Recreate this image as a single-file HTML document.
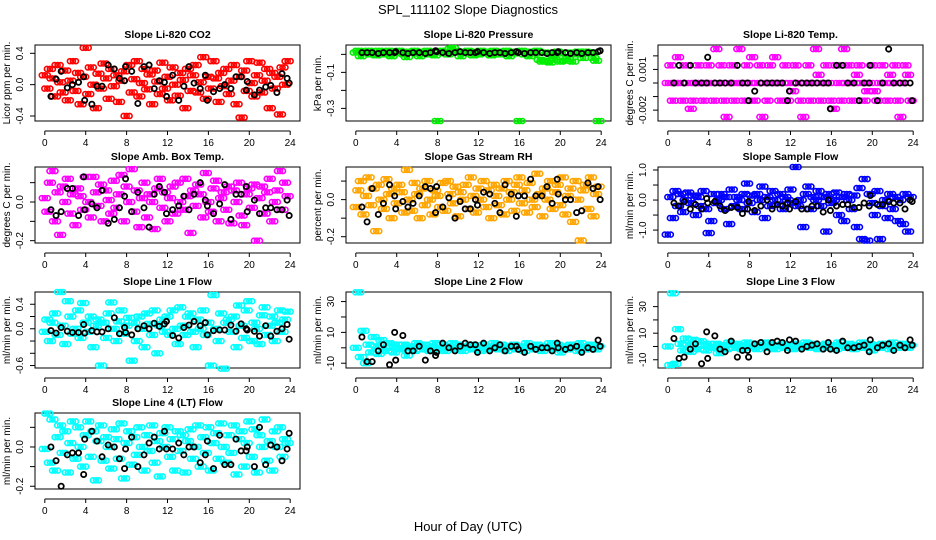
<!DOCTYPE html>
<html><head><meta charset="utf-8"><style>
html,body{margin:0;padding:0;background:#fff;}
svg{display:block;font-family:"Liberation Sans",Arial,sans-serif;}
</style></head><body>
<svg id="chart" width="936" height="540" viewBox="0 0 936 540">
<rect width="936" height="540" fill="#fff"/>
<text x="468" y="14" font-size="13" text-anchor="middle">SPL_111102  Slope Diagnostics</text>
<text x="468" y="531" font-size="13" text-anchor="middle">Hour of Day (UTC)</text>
</svg>
<script>
const hourTicks = [0,4,8,12,16,20,24];
const blackHours = [0.6,1.1,1.6,2.2,2.7,3.3,3.8,3.9,4.6,5.1,5.6,6.2,6.8,7.3,7.8,7.9,8.5,9.1,9.7,10.2,10.7,11.2,11.7,11.9,12.5,13.1,13.6,14.1,14.6,15.2,15.7,15.9,16.5,17.1,17.6,18.2,18.7,19.2,19.7,19.8,20.5,21.0,21.6,22.1,22.7,23.2,23.7,23.9];

const co2Vals = [0.12,-0.05,0.2,0.08,-0.15,0.25,0.03,-0.1,0.18,-0.2,0.05,0.3,-0.08,0.15,-0.25,0.1,0.47,-0.12,0.22,0.0,-0.3,0.14,-0.05,0.27,0.08,-0.18,0.2,-0.02,0.12,-0.22,0.05,0.17,-0.4,0.25,-0.1,0.07,0.3,-0.15,0.02,0.2,-0.06,0.13,-0.25,0.18,0.04,-0.12,0.28,-0.05,0.1,-0.2,0.22,0.0,-0.14,0.15,0.06,-0.3,0.2,-0.08,0.12,0.25,-0.1,0.03,0.35,-0.18,0.1,-0.05,0.3,0.08,-0.22,0.15,-0.02,0.2,-0.12,0.05,0.25,-0.25,0.1,-0.42,0.18,-0.08,0.3,0.02,-0.15,0.12,0.28,-0.1,0.05,0.2,-0.3,0.15,-0.05,0.1,-0.38,0.22,0.0,0.3];
const co2Black = [-0.15,0.07,0.17,-0.04,0.0,0.03,0.1,-0.2,-0.25,-0.02,-0.02,0.25,0.2,0.08,0.05,0.23,0.17,-0.24,0.23,0.25,-0.05,0.05,0.03,-0.15,0.12,-0.2,-0.02,0.23,0.02,-0.05,0.12,-0.2,-0.09,-0.05,0.0,-0.05,0.1,0.1,-0.07,0.04,-0.13,-0.07,-0.03,-0.01,-0.1,0.14,0.08,0.02];

const presVals = [0.01,0.02,-0.01,0.015,0.005,0.02,0.0,0.01,-0.005,0.02,0.01,0.015,0.0,0.02,-0.01,0.01,0.005,0.02,0.01,0.0,-0.015,0.015,0.01,0.02,0.005,-0.01,0.015,0.01,0.02,0.0,0.01,-0.005,-0.37,0.02,0.01,0.015,0.0,0.03,0.035,0.02,0.01,-0.01,0.015,0.005,0.02,0.01,-0.005,0.015,0.0,0.02,0.01,0.005,0.015,-0.005,0.02,0.01,0.0,0.015,0.01,0.02,-0.01,0.01,0.005,0.015,-0.37,0.02,0.0,0.01,-0.01,0.015,0.005,0.02,-0.03,-0.04,0.01,-0.035,-0.045,0.0,-0.03,0.015,-0.04,0.005,-0.035,-0.025,0.01,-0.04,0.0,0.015,0.01,-0.02,0.015,0.005,0.01,-0.02,-0.035,-0.37];
const presBlack = [0.01,0.01,0.01,0.005,0.01,0.01,0.01,0.015,0.01,0.005,0.01,0.01,0.005,0.01,0.02,0.015,0.01,0.005,0.01,0.015,0.01,0.01,0.01,0.015,0.01,0.005,0.01,0.01,0.005,0.01,0.015,0.01,0.005,0.01,0.01,0.01,0.005,0.01,0.01,0.015,0.01,0.005,0.01,0.005,0.01,0.01,0.015,0.02];

const tempVals = [0,0.0013,-0.0013,0,0.0019,0,-0.0013,0.0013,0,-0.0019,-0.0013,0,0.0013,0,-0.0013,0,0.0013,0,-0.0013,0.0025,0,0.0013,-0.0013,-0.0025,0,0.0013,-0.0013,0,0.0025,0,-0.0013,0.0013,0,0.0019,-0.0013,0,0.0013,-0.0025,0,-0.0013,0.0013,0,0.0019,0,-0.0013,0,0.0013,-0.0013,0,-0.0006,0.0013,0,-0.0013,-0.0025,0,0.0013,-0.0013,0,0.0025,0.0006,-0.0013,0,0.0013,0,-0.0013,-0.0019,0.0013,0,-0.0013,0.0025,0,0.0013,-0.0013,0,0.0006,0.0013,0,-0.0013,-0.0006,0,0.0013,-0.0006,-0.0013,0,0.0013,0,-0.0013,0.0006,0,0.0013,-0.0013,-0.0025,0,0.0013,0.0006,-0.0013];
const tempBlack = [0,0.0013,0,0.0013,0,0,0,0.0019,0,0,0,0,0.0013,0,0,-0.0013,-0.0006,0,0,0,0,0,-0.0013,-0.0006,0,0,0,0,0,0,0,-0.0019,0.0013,0.0013,0,0,-0.0013,0,0,0.0013,-0.0013,0,0.0025,0,0,0,0,-0.0013];

const boxVals = [0.02,-0.05,0.1,0.16,-0.1,0.05,-0.17,0.08,0.0,0.12,-0.06,0.04,-0.12,0.07,0.03,-0.04,0.13,0.0,-0.08,0.13,0.05,-0.02,0.09,-0.1,0.06,0.01,-0.06,0.11,-0.03,0.04,0.14,-0.1,0.08,0.0,0.17,-0.05,0.06,-0.13,0.02,0.1,-0.08,0.04,0.0,-0.14,0.07,0.12,-0.03,0.05,-0.1,0.02,0.08,-0.06,0.1,0.0,-0.04,0.12,0.03,-0.16,0.06,-0.02,0.09,0.04,-0.08,0.15,0.0,-0.05,0.07,0.11,-0.1,0.02,0.05,-0.04,0.08,-0.11,0.06,0.0,0.1,-0.07,-0.12,0.04,0.07,-0.03,0.09,-0.2,0.02,0.08,-0.06,0.05,0.12,-0.1,0.0,0.06,0.16,-0.04,0.1,0.03];
const boxBlack = [-0.04,-0.07,-0.05,0.07,0.07,-0.07,0.13,-0.04,-0.01,-0.03,0.06,-0.11,-0.09,-0.03,0.03,0.12,-0.05,0.05,-0.03,-0.13,0.04,0.08,0.05,-0.06,-0.04,-0.02,0.03,-0.04,0.04,0.1,0.01,-0.02,-0.06,-0.01,0.09,-0.09,0.04,0.04,0.08,-0.05,0.01,-0.06,-0.03,-0.03,-0.04,-0.04,0.01,-0.07];

const rhVals = [-0.04,0.05,0.1,-0.08,0.02,0.12,-0.03,0.06,-0.17,0.08,0.0,-0.05,0.11,0.03,-0.1,0.06,-0.02,0.08,0.04,-0.07,0.16,0.0,-0.06,0.09,0.03,-0.1,0.06,-0.03,0.1,0.0,-0.08,0.05,0.02,-0.04,0.09,-0.06,0.1,0.03,-0.02,0.07,-0.09,0.04,0.0,0.08,-0.05,0.12,0.02,-0.07,0.06,0.0,0.1,-0.04,0.05,-0.1,0.08,0.02,-0.03,0.06,-0.08,0.1,0.0,0.04,-0.06,0.08,0.12,-0.02,0.05,-0.07,0.09,0.0,-0.04,0.14,0.03,-0.09,0.06,0.0,0.1,-0.05,0.04,0.08,-0.03,0.12,-0.08,0.02,0.06,-0.12,0.1,0.0,-0.22,0.05,0.08,-0.05,0.12,-0.09,0.03,0.07];
const rhBlack = [-0.04,-0.12,0.06,-0.08,-0.02,0.08,0.02,-0.05,-0.01,-0.04,-0.02,0.02,0.07,0.06,-0.07,0.07,-0.04,0.01,-0.1,-0.01,-0.05,-0.05,0.0,-0.03,0.04,0.03,-0.02,-0.07,0.08,0.03,-0.09,0.02,0.02,0.11,0.02,0.02,0.07,-0.02,0.11,0.03,0.0,0.0,-0.07,-0.06,0.09,0.06,0.07,0.0];

const flowVals = [-1.15,0.1,-0.6,0.3,-0.2,0.2,-0.4,0.0,0.25,-0.1,0.15,-0.5,0.1,-0.2,0.3,-0.3,-1.1,-0.7,0.2,-0.1,0.0,0.2,-0.3,0.1,-0.8,0.35,-0.2,0.1,0.0,-0.3,0.2,0.55,-0.1,0.15,-0.4,0.2,0.0,0.45,-0.6,0.1,-0.2,0.3,0.0,-0.15,0.2,-0.3,0.1,0.0,0.35,-0.1,1.1,-0.2,0.0,-0.9,0.2,0.45,-0.3,0.1,0.0,0.3,-0.2,0.1,-1.05,0.2,-0.1,0.0,0.25,-0.5,0.1,-0.7,0.2,0.0,-0.3,0.15,-0.9,0.4,-1.3,0.7,-1.35,0.2,-0.1,-0.5,0.3,-1.3,-0.2,0.0,-0.6,0.2,-0.3,0.1,-0.7,0.0,-0.8,0.2,-1.05,0.1];
const flowBlack = [-0.1,-0.2,-0.05,-0.3,-0.15,-0.3,0.05,-0.1,-0.05,-0.2,-0.35,-0.25,-0.25,-0.45,-0.3,-0.05,-0.35,-0.2,0.0,-0.3,-0.15,-0.2,-0.1,-0.3,-0.05,-0.3,-0.3,-0.2,-0.2,-0.4,0.0,-0.35,-0.2,-0.15,-0.15,-0.25,-0.25,-0.1,-0.2,0.15,-0.15,-0.15,-0.05,-0.1,-0.1,-0.3,0.0,-0.05];

const l1Vals = [-0.05,0.15,-0.2,0.1,0.25,-0.1,0.6,0.05,-0.25,0.45,0.2,-0.08,0.0,0.3,-0.15,0.42,0.1,-0.05,0.2,-0.3,0.05,0.15,-0.6,0.1,-0.15,0.25,0.43,0.0,-0.2,0.12,0.3,-0.08,0.05,0.18,-0.52,0.1,-0.2,0.2,0.0,-0.3,0.25,0.08,-0.1,0.3,-0.4,0.05,0.15,-0.05,0.2,-0.1,0.3,0.0,-0.25,0.35,0.05,-0.1,0.2,0.25,-0.05,-0.3,0.15,0.0,0.3,-0.1,0.1,-0.6,0.55,0.0,-0.2,0.25,-0.65,0.1,0.15,-0.05,0.2,-0.3,0.38,0.05,-0.15,0.3,0.45,-0.2,0.1,0.0,-0.25,0.22,0.35,-0.1,0.05,0.2,-0.2,0.1,0.3,-0.05,0.15,0.28];
const l1Black = [-0.03,-0.07,0.02,-0.04,-0.06,-0.06,0.07,-0.07,-0.03,-0.05,-0.05,0.0,0.18,-0.08,0.02,-0.06,-0.1,0.0,0.05,0.0,0.09,0.04,0.08,0.12,-0.11,-0.15,0.02,0.06,0.12,0.05,0.1,-0.1,-0.03,-0.02,-0.02,0.06,-0.04,0.08,0.0,-0.02,-0.04,-0.12,0.05,-0.12,-0.04,0.0,0.07,-0.17];

const l2Vals = [0,36,-6,11,-10,2,-3,7,1,-4,5,0,-2,3,1,-3,2,0,-1,2,-5,1,0,-2,3,1,-1,2,0,-2,1,3,-1,0,2,-2,1,0,3,-1,2,0,-2,1,0,2,-1,0,1,-2,2,0,-1,1,3,0,-1,2,0,-2,1,0,2,-1,0,1,-2,3,0,1,-1,2,0,-2,1,0,3,-1,0,2,-3,1,0,-1,2,0,1,-2,3,0,-1,1,2,0,-1,1];
const l2Black = [7,-9,-9,-2,2,-11,10,-8,8,-2,-2,1,-8,-2,-5,-3,3,0,-2,1,3,2,2,-3,3,-2,0,2,-2,1,1,-1,-3,1,-1,0,0,-2,3,0,-1,0,1,-3,0,-1,5,1];

const l3Vals = [0,-14,40,-13,13,2,-3,6,1,-4,5,0,-2,4,1,-3,2,0,-1,2,-5,1,0,-2,3,1,-1,2,0,-2,1,3,-1,0,2,-2,1,0,3,-1,2,0,-2,1,0,2,-1,0,1,-2,2,0,-1,1,3,0,-1,2,0,-2,1,0,2,-1,0,1,-2,3,0,1,-1,2,0,-2,1,0,3,-1,0,2,-3,1,0,-1,2,0,1,-2,3,0,-1,1,2,0,-1,1];
const l3Black = [6,-9,-8,-2,2,-13,11,-9,8,-2,-4,4,-8,-3,-3,-8,2,3,-4,3,4,3,-3,5,4,-2,0,1,2,-2,3,-2,-3,4,-1,-1,0,1,-4,5,-1,1,2,-3,1,-1,5,1];

const l4Vals = [-0.01,0.17,-0.08,0.14,-0.12,0.05,0.11,-0.03,0.08,-0.13,0.02,0.13,-0.06,0.1,0.0,-0.1,0.06,0.13,-0.05,0.08,-0.17,0.03,0.11,-0.07,0.05,0.0,-0.11,0.09,0.04,-0.06,0.12,-0.16,0.02,0.08,-0.09,0.05,-0.04,0.1,0.0,-0.12,0.06,-0.02,0.11,-0.08,0.03,-0.15,0.07,0.0,0.1,-0.05,0.04,-0.12,0.08,-0.02,0.06,-0.13,0.03,0.09,-0.06,0.0,0.11,-0.1,0.05,-0.03,0.1,-0.12,0.02,0.07,-0.06,0.12,0.0,-0.08,0.06,-0.03,0.11,-0.14,0.04,0.08,-0.1,0.02,0.13,-0.05,0.09,-0.13,0.06,0.0,0.14,-0.07,0.03,-0.12,0.08,0.0,0.1,-0.05,0.04,0.02];
const l4Black = [0.0,-0.07,-0.2,-0.04,-0.03,-0.03,-0.14,0.04,0.08,0.03,-0.05,0.01,0.0,-0.06,-0.11,-0.01,0.05,-0.1,-0.04,0.02,0.05,-0.01,0.08,-0.01,-0.01,0.02,-0.04,0.0,0.0,-0.08,-0.04,0.03,-0.11,0.06,-0.09,-0.09,0.04,-0.02,-0.02,0.0,-0.1,0.1,-0.09,0.01,0.0,-0.07,-0.01,0.07];

const panels = [
 {name:'co2',title:'Slope Li-820 CO2',ylab:'Licor ppm per min.',col:0,row:0,color:'#ff0000',vals:co2Vals,black:co2Black,ymin:-0.464,ymax:0.506,ticks:[-0.4,0,0.4],labels:['-0.4','0.0','0.4']},
 {name:'pressure',title:'Slope Li-820 Pressure',ylab:'kPa per min.',col:1,row:0,color:'#00ee00',vals:presVals,black:presBlack,ymin:-0.37,ymax:0.052,ticks:[0,-0.1,-0.2,-0.3],labels:['','-0.1','','-0.3']},
 {name:'temp',title:'Slope Li-820 Temp.',ylab:'degrees C per min.',col:2,row:0,color:'#ff00ff',vals:tempVals,black:tempBlack,ymin:-0.0028,ymax:0.0028,ticks:[0.002,0.001,0,-0.001,-0.002],labels:['','0.001','','','-0.002']},
 {name:'box-temp',title:'Slope Amb. Box Temp.',ylab:'degrees C per min.',col:0,row:1,color:'#ff00ff',vals:boxVals,black:boxBlack,ymin:-0.212,ymax:0.181,ticks:[0.1,0,-0.1,-0.2],labels:['','0.0','','-0.2']},
 {name:'gas-rh',title:'Slope Gas Stream RH',ylab:'percent per min.',col:1,row:1,color:'#ffa500',vals:rhVals,black:rhBlack,ymin:-0.234,ymax:0.176,ticks:[0.1,0,-0.1,-0.2],labels:['','0.0','','-0.2']},
 {name:'sample-flow',title:'Slope Sample Flow',ylab:'ml/min per min.',col:2,row:1,color:'#0000ff',vals:flowVals,black:flowBlack,ymin:-1.43,ymax:1.1,ticks:[1,0.5,0,-0.5,-1],labels:['1.0','','0.0','','-1.0']},
 {name:'line1-flow',title:'Slope Line 1 Flow',ylab:'ml/min per min.',col:0,row:2,color:'#00ffff',vals:l1Vals,black:l1Black,ymin:-0.64,ymax:0.6,ticks:[0.4,0.2,0,-0.2,-0.4,-0.6],labels:['0.4','','0.0','','','-0.6']},
 {name:'line2-flow',title:'Slope Line 2 Flow',ylab:'ml/min per min.',col:1,row:2,color:'#00ffff',vals:l2Vals,black:l2Black,ymin:-13.1,ymax:36.2,ticks:[30,20,10,0,-10],labels:['30','','10','','-10']},
 {name:'line3-flow',title:'Slope Line 3 Flow',ylab:'ml/min per min.',col:2,row:2,color:'#00ffff',vals:l3Vals,black:l3Black,ymin:-16.2,ymax:41,ticks:[30,20,10,0,-10],labels:['30','','10','','-10']},
 {name:'line4-flow',title:'Slope Line 4 (LT) Flow',ylab:'ml/min per min.',col:0,row:3,color:'#00ffff',vals:l4Vals,black:l4Black,ymin:-0.214,ymax:0.173,ticks:[0.1,0,-0.1,-0.2],labels:['','0.0','','-0.2']}
];

const NS='http://www.w3.org/2000/svg';
const svg=document.getElementById('chart');
const colX=[35,346,658], rowY=[45,167,292,413], W=265, H=76;
const clusterOffsets=[-3,0,3];
function mk(tag,attrs,parent){const e=document.createElementNS(NS,tag);for(const k in attrs)e.setAttribute(k,attrs[k]);(parent||svg).appendChild(e);return e;}

panels.forEach(p=>{
  const L=colX[p.col], T=rowY[p.row], B=T+H, R=L+W;
  const g=mk('g',{});
  
  
  const xs=h=>L+(h+0.96)*W/25.92;
  const ys=v=>T+(p.ymax-v)/(p.ymax-p.ymin)*H;
  const t=mk('text',{x:(L+R)/2,y:T-7,'font-size':10.5,'font-weight':'bold','text-anchor':'middle'},g);
  t.textContent=p.title;
  
  
  const box=mk('rect',{x:L,y:T,width:W,height:H,fill:'none',stroke:'#000','stroke-width':1},g);
  
  
  const xa=mk('g',{},g);
  
  
  mk('line',{x1:xs(0),x2:xs(24),y1:B+10,y2:B+10,stroke:'#000'},xa);
  hourTicks.forEach(h=>{
    mk('line',{x1:xs(h),x2:xs(h),y1:B+10,y2:B+14,stroke:'#000'},xa);
    const tl=mk('text',{x:xs(h),y:B+25,'font-size':10,'text-anchor':'middle'},xa);
    tl.textContent=h;
    
    
  });
  const ya=mk('g',{},g);
  
  
  p.ticks.forEach((v,i)=>{
    const y=ys(v);
    mk('line',{x1:L-5,x2:L,y1:y,y2:y,stroke:'#000'},ya);
    if(p.labels[i]){
      const tl=mk('text',{x:0,y:0,'font-size':10,'text-anchor':'middle',transform:`translate(${L-12},${y}) rotate(-90)`},ya);
      tl.textContent=p.labels[i];
      
      
    }
  });
  const yl=mk('text',{x:0,y:0,'font-size':10,'text-anchor':'middle',transform:`translate(${L-25},${(T+B)/2}) rotate(-90)`},g);
  yl.textContent=p.ylab;
  
  
  const sg=mk('g',{fill:'none',stroke:p.color,'stroke-width':1.6},g);
  
  
  p.vals.forEach((v,i)=>{
    const h=i*24/p.vals.length;
    const cx=xs(h), cy=ys(v);
    clusterOffsets.forEach(o=>{
      const c=mk('circle',{cx:cx+o,cy:cy,r:2.5},sg);
      
      
    });
  });
  const bg=mk('g',{fill:'none',stroke:'#000','stroke-width':1.8},g);
  
  
  p.black.forEach((v,i)=>{
    const c=mk('circle',{cx:xs(blackHours[i]),cy:ys(v),r:2.6},bg);
    
    
  });
});
</script>
</body></html>
